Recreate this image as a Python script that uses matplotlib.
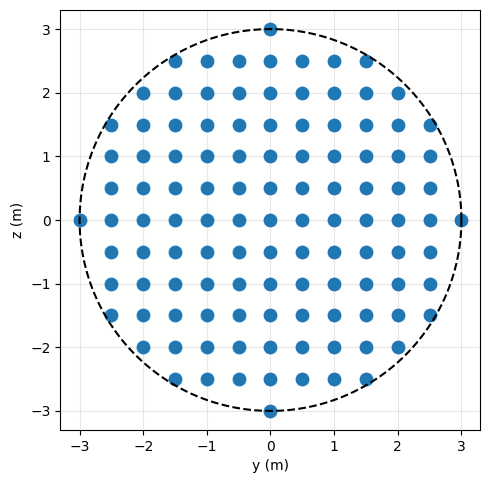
import matplotlib
matplotlib.use("Agg")
import numpy as np
import matplotlib.pyplot as plt


# ----------------------------
# Data
# ----------------------------

RADIUS = 3.0

# z level of each row and the y positions of the points on that row
row_z = [3.0, 2.5, 2.0, 1.5, 1.0, 0.5, 0.0, -0.5, -1.0, -1.5, -2.0, -2.5, -3.0]
row_y = [
    [0.0],
    [-1.5, -1.0, -0.5, 0.0, 0.5, 1.0, 1.5],
    [-2.0, -1.5, -1.0, -0.5, 0.0, 0.5, 1.0, 1.5, 2.0],
    [-2.5, -2.0, -1.5, -1.0, -0.5, 0.0, 0.5, 1.0, 1.5, 2.0, 2.5],
    [-2.5, -2.0, -1.5, -1.0, -0.5, 0.0, 0.5, 1.0, 1.5, 2.0, 2.5],
    [-2.5, -2.0, -1.5, -1.0, -0.5, 0.0, 0.5, 1.0, 1.5, 2.0, 2.5],
    [-3.0, -2.5, -2.0, -1.5, -1.0, -0.5, 0.0, 0.5, 1.0, 1.5, 2.0, 2.5, 3.0],
    [-2.5, -2.0, -1.5, -1.0, -0.5, 0.0, 0.5, 1.0, 1.5, 2.0, 2.5],
    [-2.5, -2.0, -1.5, -1.0, -0.5, 0.0, 0.5, 1.0, 1.5, 2.0, 2.5],
    [-2.5, -2.0, -1.5, -1.0, -0.5, 0.0, 0.5, 1.0, 1.5, 2.0, 2.5],
    [-2.0, -1.5, -1.0, -0.5, 0.0, 0.5, 1.0, 1.5, 2.0],
    [-1.5, -1.0, -0.5, 0.0, 0.5, 1.0, 1.5],
    [0.0],
]


# ----------------------------
# Plot
# ----------------------------

def main():
    ys, zs = [], []
    for z, yrow in zip(row_z, row_y):
        ys.extend(yrow)
        zs.extend([z] * len(yrow))

    fig = plt.figure(figsize=(4.91, 4.84), dpi=100)
    ax = fig.add_axes([60 / 491, 54 / 484, 421 / 491, 420 / 484])

    ax.scatter(ys, zs, s=80, color="#1f77b4", zorder=3)

    theta = np.linspace(0, 2 * np.pi, 400)
    ax.plot(RADIUS * np.cos(theta), RADIUS * np.sin(theta),
            "k--", linewidth=1.5, zorder=4)

    ax.set_xlim(-3.3, 3.3)
    ax.set_ylim(-3.3, 3.3)
    ax.set_aspect("equal", adjustable="box")
    ax.set_xticks(range(-3, 4))
    ax.set_yticks(range(-3, 4))
    ax.set_xticklabels([str(v).replace("-", "\u2212") for v in range(-3, 4)])
    ax.set_yticklabels([str(v).replace("-", "\u2212") for v in range(-3, 4)])
    ax.grid(True, alpha=0.3)
    ax.set_xlabel("y (m)")
    ax.set_ylabel("z (m)")

    fig.savefig("out.png", dpi=100)


if __name__ == "__main__":
    main()
